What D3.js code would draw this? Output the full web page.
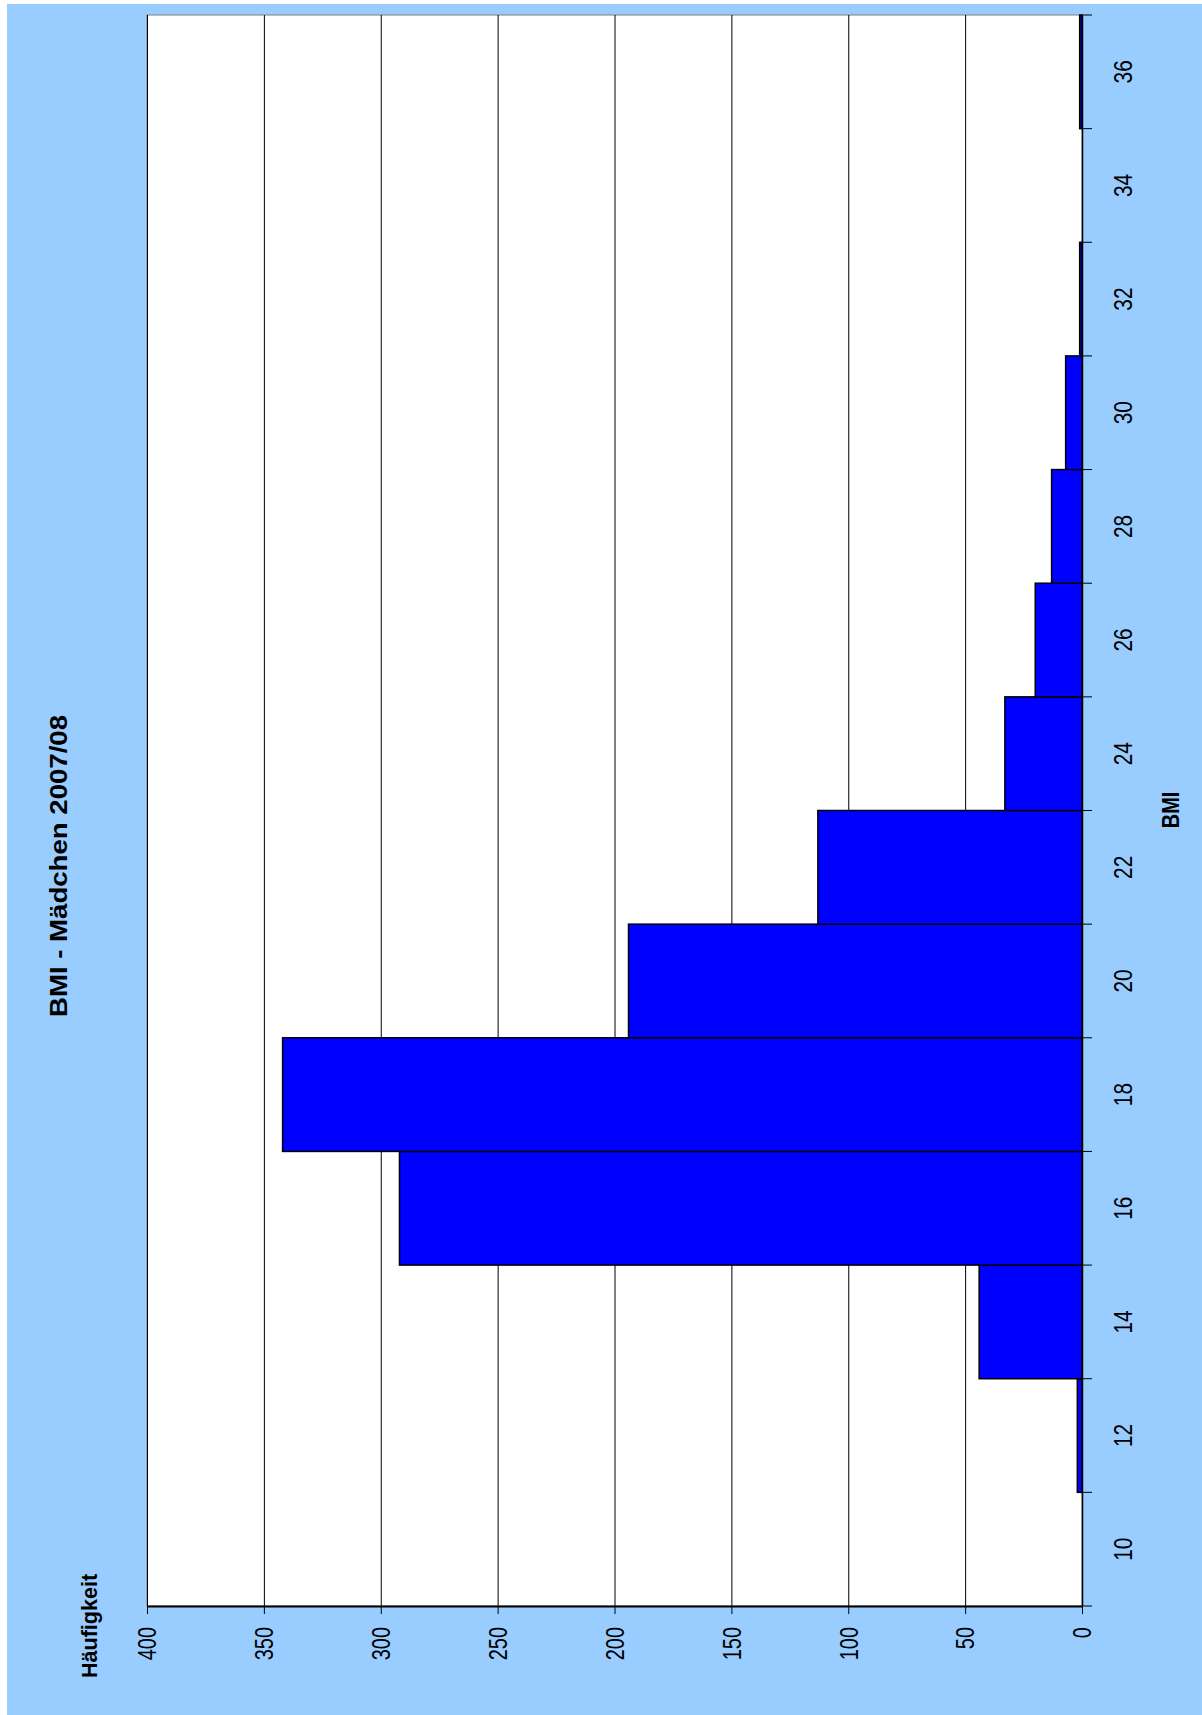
<!DOCTYPE html>
<html><head><meta charset="utf-8">
<script src="https://cdn.jsdelivr.net/npm/d3@7"></script>
<style>html,body{margin:0;padding:0;background:#fff;}svg{display:block;}</style>
</head><body>
<script>
const categories = [10,12,14,16,18,20,22,24,26,28,30,32,34,36];
const counts     = [0,2,44,292,342,194,113,33,20,13,7,1,0,1];
const valueTicks = [0,50,100,150,200,250,300,350,400];
const title = "BMI - Mädchen 2007/08";
const valueTitle = "Häufigkeit";
const catTitle = "BMI";

const W = 1202, H = 1715;
const svg = d3.select("body").append("svg").attr("width", W).attr("height", H);
const font = "'Liberation Sans', Arial, sans-serif";

svg.append("rect").attr("x",7).attr("y",4).attr("width",W-7).attr("height",H-4).attr("fill","#99ccff");

const x = d3.scaleLinear().domain([0,400]).range([1082,147]);
const y = d3.scaleBand().domain(categories).range([1606,15]).padding(0);

// plot area
svg.append("rect").attr("x",147).attr("y",15).attr("width",1082-147).attr("height",1606-15)
  .attr("fill","#fff").attr("stroke","#808080").attr("stroke-width",1);

// gridlines
svg.append("g").selectAll("line").data(valueTicks.filter(v=>v>0)).join("line")
  .attr("x1",d=>x(d)+0.5).attr("x2",d=>x(d)+0.5).attr("y1",15).attr("y2",1606)
  .attr("stroke","#000").attr("stroke-width",1);

// bars
svg.append("g").selectAll("rect").data(categories.map((c,i)=>({c,v:counts[i]}))).join("rect")
  .attr("x",d=>x(d.v)).attr("y",d=>y(d.c)).attr("width",d=>x(0)-x(d.v)).attr("height",y.bandwidth())
  .attr("fill","#0000ff").attr("stroke","#000").attr("stroke-width",1.5);

// value axis (bottom)
const xAxis = svg.append("g").attr("transform","translate(0,1606)")
  .call(d3.axisBottom(x).tickValues(valueTicks).tickSize(8).tickSizeOuter(0).tickFormat(d3.format("d")));
xAxis.select(".domain").attr("stroke","#000").attr("stroke-width",2);
xAxis.selectAll(".tick line").attr("stroke","#000").attr("stroke-width",1);
xAxis.selectAll(".tick text")
  .attr("font-family",font).attr("font-size",25).attr("fill","#000")
  .attr("text-anchor","end").attr("dy","0.35em").attr("y",0)
  .attr("transform","translate(0,21) rotate(-90) scale(0.8,1)");

// category axis (right)
const yAxis = svg.append("g").attr("transform","translate(1082,0)")
  .call(d3.axisRight(y).tickSize(0).tickSizeOuter(0));
yAxis.select(".domain").attr("stroke","#000").attr("stroke-width",1.5);
yAxis.selectAll(".tick text")
  .attr("font-family",font).attr("font-size",26).attr("fill","#000")
  .attr("text-anchor","middle").attr("x",0).attr("dy","0.35em")
  .attr("transform","translate(41,0) rotate(-90) scale(0.8,1)");
// boundary ticks
const bounds = categories.map(c=>y(c)).concat([y(categories[0])+y.bandwidth()]);
yAxis.append("g").selectAll("line").data(bounds).join("line")
  .attr("x1",0).attr("x2",10).attr("y1",d=>d).attr("y2",d=>d)
  .attr("stroke","#000").attr("stroke-width",1);

// titles
svg.append("text").text(title)
  .attr("font-family",font).attr("font-weight","bold").attr("font-size",23)
  .attr("text-anchor","middle")
  .attr("transform","translate(67,866) rotate(-90) scale(1.2,1)");
svg.append("text").text(valueTitle)
  .attr("font-family",font).attr("font-weight","bold").attr("font-size",22)
  .attr("text-anchor","middle")
  .attr("transform","translate(97,1626) rotate(-90) scale(0.98,1)");
svg.append("text").text(catTitle)
  .attr("font-family",font).attr("font-weight","bold").attr("font-size",24)
  .attr("text-anchor","middle")
  .attr("transform","translate(1179,810) rotate(-90) scale(0.83,1)");
</script>
</body></html>
